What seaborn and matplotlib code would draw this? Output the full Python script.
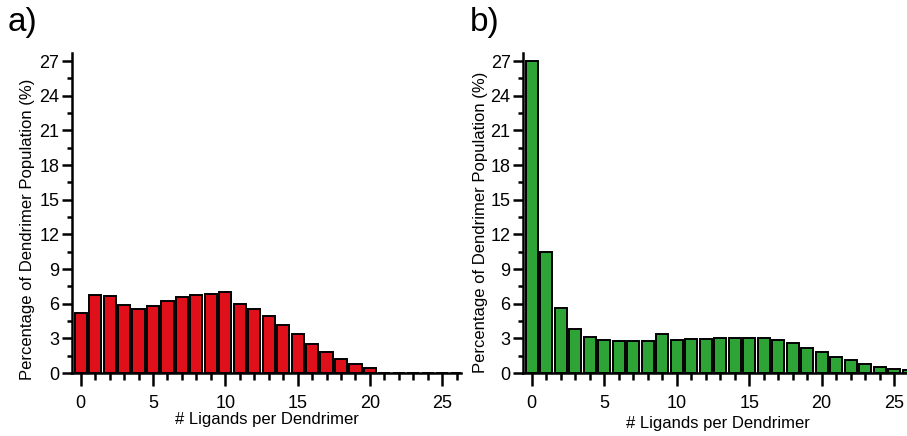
import numpy as np
import pandas as pd
import matplotlib
matplotlib.use("Agg")
import matplotlib.pyplot as plt
import seaborn as sns
from matplotlib.ticker import MultipleLocator

ligands_a = list(range(0, 27))
pct_a = [5.2, 6.77, 6.63, 5.85, 5.53, 5.82, 6.22, 6.54, 6.77, 6.8, 6.97,
         5.94, 5.56, 4.93, 4.18, 3.37, 2.54, 1.82, 1.21, 0.78, 0.43,
         0, 0, 0, 0, 0, 0]
ligands_b = list(range(0, 27))
pct_b = [27.0, 10.5, 5.6, 3.8, 3.08, 2.88, 2.77, 2.77, 2.77, 3.37, 2.85,
         2.94, 2.97, 3.05, 3.05, 3.05, 3.05, 2.85, 2.6, 2.16, 1.82,
         1.38, 1.1, 0.75, 0.49, 0.37, 0.26]
panel_labels = ["a)", "b)"]
xlabel = "# Ligands per Dendrimer"
ylabel = "Percentage of Dendrimer Population (%)"
colors = ["#e0101a", "#2ea437"]

sns.set_style("ticks")
plt.rcParams['font.family'] = ['Liberation Sans', 'DejaVu Sans']
plt.rcParams['text.color'] = 'black'
plt.rcParams['axes.labelcolor'] = 'black'
plt.rcParams['xtick.color'] = 'black'
plt.rcParams['ytick.color'] = 'black'

fig = plt.figure(figsize=(9.07, 4.36), dpi=100)
ax_a = fig.add_axes([72/907, 63/436, 389/907, 320/436])
ax_b = fig.add_axes([523/907, 63/436, 390/907, 320/436])

settings = [(ax_a, ligands_a, pct_a, colors[0], panel_labels[0], 8/907, 0.45, 0.5, -0.095),
            (ax_b, ligands_b, pct_b, colors[1], panel_labels[1], 470/907, 0.47, 3.5, -0.09)]
for ax, xs, ys, col, lab, lx, ly, xlp, lxc in settings:
    df = pd.DataFrame({"n": xs, "pct": ys})
    sns.barplot(data=df, x="n", y="pct", native_scale=True, ax=ax, color=col,
                saturation=1, width=0.84, edgecolor="black", linewidth=1.4)
    ax.set_xlim(-0.6, 26.3)
    ax.set_ylim(0, 27.7)
    ax.yaxis.set_major_locator(MultipleLocator(3))
    ax.yaxis.set_minor_locator(MultipleLocator(1.5))
    ax.xaxis.set_major_locator(MultipleLocator(5))
    ax.xaxis.set_minor_locator(MultipleLocator(1))
    for s in ["top", "right"]:
        ax.spines[s].set_visible(False)
    for s in ["left", "bottom"]:
        ax.spines[s].set_linewidth(1.8)
        ax.spines[s].set_color("black")
    ax.tick_params(axis="y", which="major", length=7, width=1.8, labelsize=13, pad=2)
    ax.tick_params(axis="y", which="minor", length=3.5, width=1.8)
    ax.tick_params(axis="x", which="major", length=9.5, width=1.8, labelsize=13, pad=6)
    ax.tick_params(axis="x", which="minor", length=5, width=1.8)
    ax.set_xlabel(xlabel, fontsize=12, labelpad=xlp)
    ax.set_ylabel(ylabel, fontsize=12)
    ax.yaxis.set_label_coords(lxc, ly)
    fig.text(lx, 0.985, lab, fontsize=24, va="top", ha="left")

fig.savefig("out.png", dpi=100)
